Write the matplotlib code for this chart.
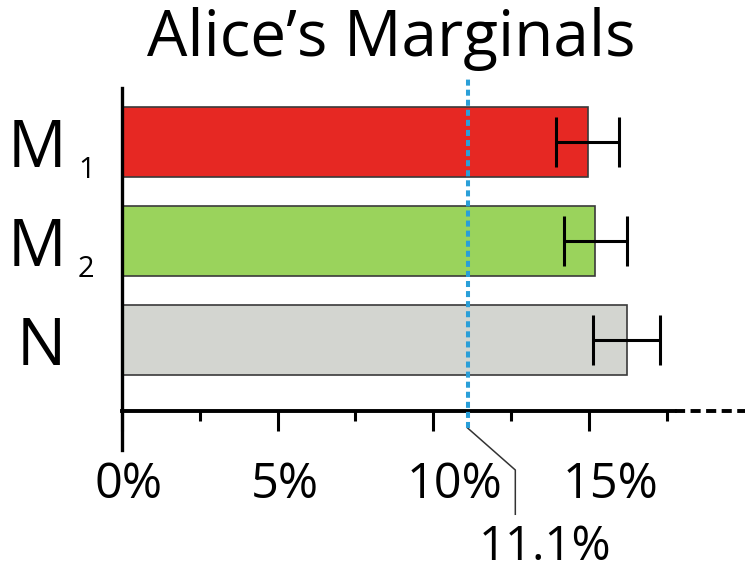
import matplotlib
matplotlib.use("Agg")
import matplotlib.pyplot as plt
from matplotlib.transforms import ScaledTranslation

plt.rcParams["font.family"] = ["Open Sans", "DejaVu Sans"]

# Marginal probabilities (percent) with their uncertainties
categories = ["M", "M", "N"]
subscripts = ["1", "2", ""]
values = [14.95, 15.2, 16.2]
errors = [1.0, 1.02, 1.07]
colors = ["#E62823", "#9AD35C", "#D3D5D0"]
positions = [2, 1, 0]
reference = 11.1
tick_values = [0, 5, 10, 15]
tick_labels = ["0%", "5%", "10%", "15%"]
minor_values = [2.5, 7.5, 12.5, 17.5]

fig = plt.figure(figsize=(7.45, 5.74), dpi=100)
ax = fig.add_axes([121.7 / 745, 124 / 574, (745 - 121.7) / 745, 362 / 574])
ax.set_xlim(0, 20)
ax.set_ylim(-1.111, 2.545)
axis_y = -0.717

ax.barh(positions, values, height=0.71, color=colors,
        edgecolor="#3a3a3a", linewidth=1.2, zorder=2)
ax.errorbar(values, positions, xerr=errors, fmt="none", ecolor="black",
            elinewidth=2.2, capsize=18, capthick=2.2, zorder=3)

# spines
for s in ["top", "right"]:
    ax.spines[s].set_visible(False)
ax.spines["left"].set_linewidth(2.4)
ax.spines["bottom"].set_linewidth(2.8)
ax.spines["bottom"].set_position(("data", axis_y))
ax.spines["bottom"].set_bounds(0, 17.75)
ax.plot([17.75, 20], [axis_y, axis_y], color="black", lw=2.8,
        dashes=(2.6, 1.4), clip_on=False, zorder=1)

# x ticks
ax.set_xticks(tick_values, tick_labels)
ax.set_xticks(minor_values, minor=True)
ax.tick_params(axis="x", which="major", direction="out", length=14.4,
               width=2.2, labelsize=35, pad=21)
ax.tick_params(axis="x", which="minor", direction="out", length=7.2, width=2.2)
for lbl in ax.get_xticklabels():
    lbl.set_horizontalalignment("left")
    lbl.set_transform(lbl.get_transform()
                      + ScaledTranslation(-27 / 100, 0, fig.dpi_scale_trans))

# y labels
ax.set_yticks(positions, categories)
ax.tick_params(axis="y", length=0, labelsize=47, pad=40)
for pos, sub in zip(positions, subscripts):
    if sub:
        ax.annotate(sub, xy=(0, pos), xycoords="data",
                    xytext=(-31.5, -26), textcoords="offset points",
                    fontsize=21, ha="left", va="baseline", annotation_clip=False)

# reference line with leader and label
ax.plot([reference, reference], [-0.889, 2.646], color="#2A9FD8", lw=2.9,
        dashes=(1.5, 1.0), clip_on=False, zorder=4)
ax.plot([reference, reference + 1.53, reference + 1.53],
        [-0.889, -1.313, -1.76], color="#333333", lw=1.1, clip_on=False)
ax.text(reference + 2.47, -2.225, f"{reference}%", fontsize=34,
        ha="center", va="baseline", clip_on=False)

fig.text(391 / 745, 1 - 56 / 574, "Alice\u2019s Marginals", fontsize=46,
         ha="center", va="baseline")

fig.savefig("out.png", dpi=100)
